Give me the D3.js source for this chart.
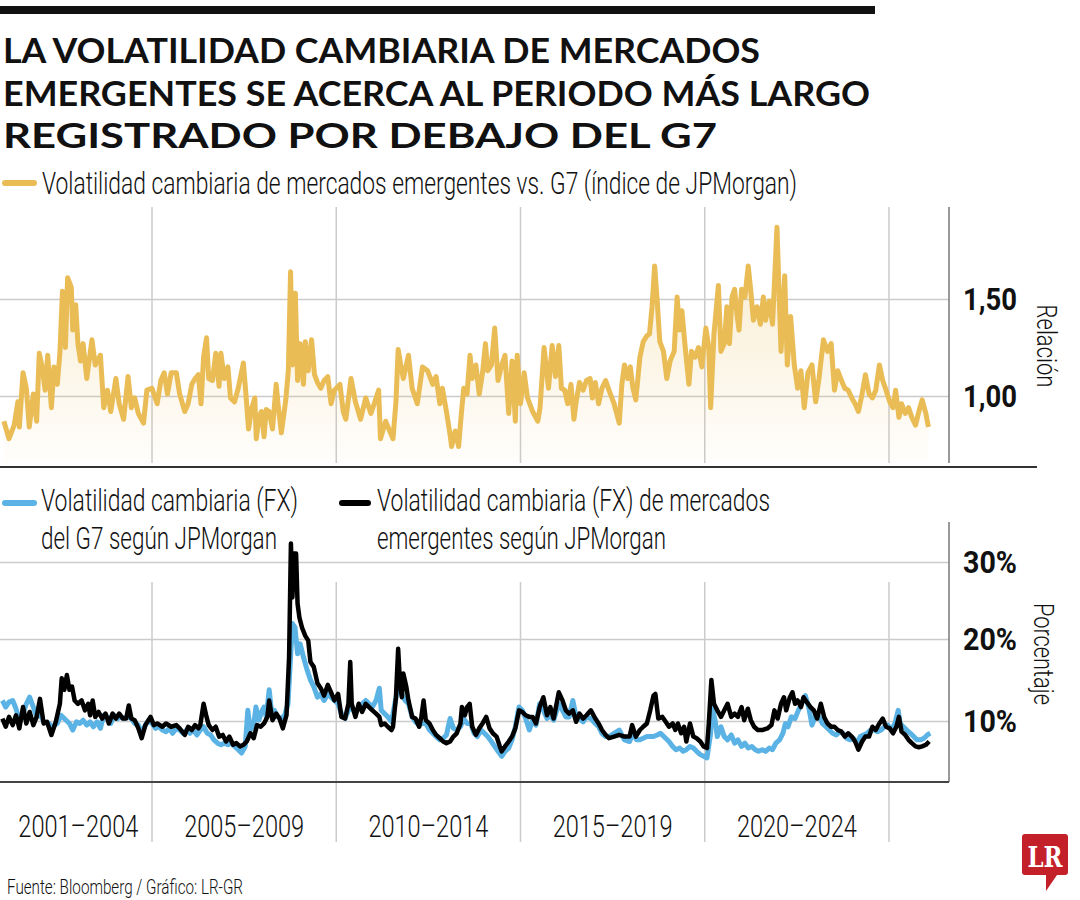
<!DOCTYPE html>
<html>
<head>
<meta charset="utf-8">
<script src="https://cdnjs.cloudflare.com/ajax/libs/d3/7.8.5/d3.min.js"></script>
<style>
  body { margin: 0; background: #fff; }
  svg { display: block; }
</style>
</head>
<body>
<div id="chart"></div>
<script>
// ---- Data ----
var titleLines = ["LA VOLATILIDAD CAMBIARIA DE MERCADOS", "EMERGENTES SE ACERCA AL PERIODO MÁS LARGO", "REGISTRADO POR DEBAJO DEL G7"];
var periodLabels = ["2001–2004", "2005–2009", "2010–2014", "2015–2019", "2020–2024"];
var periodEdges = [2001, 2005, 2010, 2015, 2020, 2025];
var gridYears = [2005, 2010, 2015, 2020, 2025];
var ratioTicks = [1, 1.5];
var pctTicks = [10, 20, 30];

// EM vs G7 FX volatility ratio (JPMorgan index), [year, ratio]
var ratioSeries = [
  [2000.98,0.87],[2001.12,0.78],[2001.26,0.85],[2001.36,0.97],[2001.40,0.84],[2001.50,1.12],[2001.59,1.04],[2001.67,0.84],[2001.78,1.01],[2001.87,0.87],
  [2001.94,1.22],[2002.01,1.16],[2002.10,1.03],[2002.17,1.21],[2002.27,0.94],[2002.34,1.15],[2002.43,1.06],[2002.50,1.22],[2002.57,1.54],[2002.65,1.25],
  [2002.71,1.61],[2002.81,1.56],[2002.85,1.34],[2002.93,1.47],[2002.99,1.27],[2003.06,1.18],[2003.13,1.27],[2003.23,1.09],[2003.37,1.29],[2003.46,1.16],
  [2003.60,1.21],[2003.69,0.94],[2003.79,1.03],[2003.88,0.92],[2004.02,1.09],[2004.11,0.96],[2004.23,0.88],[2004.35,1.10],[2004.44,0.94],[2004.53,0.99],
  [2004.63,0.91],[2004.77,0.86],[2004.86,1.03],[2005.00,1.04],[2005.14,0.96],[2005.24,1.08],[2005.33,1.12],[2005.42,1.01],[2005.52,1.12],[2005.66,1.12],
  [2005.75,1.01],[2005.89,0.92],[2005.98,0.96],[2006.08,1.06],[2006.17,1.09],[2006.26,1.11],[2006.33,0.96],[2006.40,1.20],[2006.48,1.30],[2006.54,1.09],
  [2006.64,1.08],[2006.73,1.22],[2006.82,1.05],[2006.87,1.22],[2006.96,1.09],[2007.06,1.15],[2007.13,0.99],[2007.24,0.97],[2007.34,1.04],[2007.48,1.17],
  [2007.54,1.03],[2007.62,0.83],[2007.71,0.94],[2007.79,0.99],[2007.83,0.78],[2007.90,0.89],[2007.97,0.92],[2008.04,0.79],[2008.10,0.93],[2008.18,0.92],
  [2008.27,0.83],[2008.37,1.06],[2008.42,0.96],[2008.51,0.81],[2008.63,0.98],[2008.70,1.13],[2008.76,1.64],[2008.81,1.16],[2008.89,1.53],[2008.95,1.08],
  [2009.02,1.27],[2009.11,1.06],[2009.16,1.28],[2009.24,1.13],[2009.33,1.29],[2009.41,1.11],[2009.49,1.07],[2009.58,1.04],[2009.67,1.08],[2009.77,1.10],
  [2009.86,0.96],[2009.95,1.03],[2010.10,1.06],[2010.19,0.92],[2010.26,0.88],[2010.40,1.09],[2010.52,0.97],[2010.66,0.88],[2010.80,0.99],[2010.94,0.91],
  [2011.03,0.96],[2011.15,1.03],[2011.20,0.78],[2011.34,0.87],[2011.45,0.82],[2011.54,0.78],[2011.62,0.97],[2011.68,1.24],[2011.75,1.16],[2011.82,1.09],
  [2011.96,1.21],[2012.06,1.04],[2012.20,0.96],[2012.34,1.15],[2012.48,1.13],[2012.62,1.06],[2012.71,1.10],[2012.81,0.96],[2012.88,1.04],[2012.99,0.92],
  [2013.09,0.80],[2013.13,0.74],[2013.23,0.82],[2013.32,0.74],[2013.40,0.92],[2013.46,1.04],[2013.55,1.01],[2013.63,1.21],[2013.69,1.09],[2013.79,1.16],
  [2013.88,1.01],[2013.97,1.12],[2014.05,1.27],[2014.11,1.13],[2014.21,1.16],[2014.30,1.35],[2014.39,1.08],[2014.49,1.16],[2014.58,1.21],[2014.68,0.91],
  [2014.77,1.18],[2014.86,0.87],[2014.91,1.21],[2015.00,0.96],[2015.10,1.12],[2015.19,0.99],[2015.33,0.92],[2015.47,0.87],[2015.53,0.94],[2015.64,1.25],
  [2015.76,1.04],[2015.86,1.26],[2015.95,1.10],[2016.04,1.26],[2016.11,1.04],[2016.20,1.03],[2016.28,0.96],[2016.37,1.06],[2016.45,0.88],[2016.51,0.97],
  [2016.60,1.07],[2016.70,1.03],[2016.79,1.08],[2016.89,1.09],[2016.95,0.99],[2017.03,1.07],[2017.12,0.96],[2017.21,1.04],[2017.31,1.08],[2017.40,1.03],
  [2017.54,0.96],[2017.68,0.86],[2017.75,1.06],[2017.82,1.16],[2017.91,1.09],[2017.98,1.15],[2018.05,1.04],[2018.13,0.98],[2018.24,1.20],[2018.33,1.28],
  [2018.43,1.31],[2018.50,1.32],[2018.57,1.46],[2018.64,1.67],[2018.71,1.49],[2018.78,1.28],[2018.88,1.23],[2018.97,1.09],[2019.06,1.18],[2019.17,1.23],
  [2019.25,1.51],[2019.32,1.34],[2019.38,1.44],[2019.47,1.25],[2019.57,1.06],[2019.64,1.23],[2019.74,1.20],[2019.83,1.25],[2019.92,1.15],[2020.03,1.35],
  [2020.11,1.25],[2020.16,0.94],[2020.25,1.32],[2020.37,1.57],[2020.44,1.23],[2020.53,1.27],[2020.60,1.46],[2020.67,1.27],[2020.74,1.51],[2020.81,1.55],
  [2020.88,1.41],[2020.93,1.34],[2021.00,1.55],[2021.09,1.51],[2021.18,1.67],[2021.25,1.54],[2021.32,1.39],[2021.42,1.46],[2021.51,1.37],[2021.59,1.51],
  [2021.65,1.39],[2021.75,1.49],[2021.84,1.37],[2021.96,1.87],[2022.03,1.46],[2022.07,1.23],[2022.17,1.62],[2022.24,1.16],[2022.33,1.41],[2022.43,1.16],
  [2022.52,1.04],[2022.61,1.13],[2022.70,0.94],[2022.80,1.12],[2022.91,1.16],[2023.01,0.97],[2023.10,1.09],[2023.22,1.29],[2023.33,1.23],[2023.43,1.27],
  [2023.52,1.03],[2023.61,1.13],[2023.71,1.08],[2023.80,1.04],[2023.89,1.03],[2023.99,0.99],[2024.08,0.96],[2024.17,0.92],[2024.27,1.01],[2024.36,1.11],
  [2024.46,1.01],[2024.55,0.99],[2024.64,1.03],[2024.74,1.16],[2024.83,1.08],[2024.92,1.03],[2025.02,0.97],[2025.11,0.94],[2025.18,1.03],[2025.27,0.89],
  [2025.34,0.96],[2025.44,0.91],[2025.53,0.94],[2025.62,0.89],[2025.72,0.85],[2025.81,0.92],[2025.90,0.98],[2026.00,0.91],[2026.07,0.84]
];

// G7 FX volatility (%), [year, value]
var g7Series = [
  [2000.94,12.5],[2001.03,11.7],[2001.12,12.3],[2001.22,12.5],[2001.31,11.5],[2001.40,10.1],[2001.50,10.9],[2001.59,12.1],[2001.68,12.9],[2001.78,11.7],
  [2001.87,10.5],[2001.96,10.9],[2002.06,9.9],[2002.20,9.7],[2002.29,9.3],[2002.43,9.7],[2002.53,10.7],[2002.62,10.3],[2002.76,9.7],[2002.85,8.9],
  [2002.95,9.9],[2003.04,9.7],[2003.13,10.1],[2003.23,9.5],[2003.32,9.9],[2003.41,9.3],[2003.51,9.9],[2003.60,9.1],[2003.69,10.7],[2003.79,10.5],
  [2003.88,9.7],[2003.97,10.7],[2004.07,10.3],[2004.16,10.5],[2004.25,10.3],[2004.35,10.5],[2004.44,10.3],[2004.53,9.7],[2004.63,9.5],[2004.72,8.5],
  [2004.82,9.5],[2004.91,10.1],[2005.00,9.7],[2005.10,9.1],[2005.19,9.3],[2005.28,8.9],[2005.38,8.7],[2005.47,9.1],[2005.56,8.5],[2005.66,9.1],
  [2005.75,8.9],[2005.84,8.5],[2005.94,8.9],[2006.03,8.5],[2006.12,8.9],[2006.22,8.3],[2006.31,8.9],[2006.40,9.3],[2006.50,8.5],[2006.59,8.3],
  [2006.68,7.7],[2006.78,7.3],[2006.87,7.1],[2006.96,7.3],[2007.06,7.1],[2007.15,7.3],[2007.24,6.9],[2007.34,6.5],[2007.43,6.1],[2007.53,6.9],
  [2007.60,11.3],[2007.67,8.9],[2007.76,9.5],[2007.82,11.7],[2007.90,10.1],[2007.97,11.1],[2008.04,11.7],[2008.10,10.5],[2008.18,13.8],[2008.25,10.9],
  [2008.32,11.3],[2008.41,10.5],[2008.51,10.3],[2008.60,10.7],[2008.69,12.1],[2008.76,17.8],[2008.81,22.0],[2008.88,21.5],[2008.95,18.2],[2009.02,19.4],
  [2009.11,17.8],[2009.21,16.2],[2009.30,15.0],[2009.39,14.2],[2009.49,12.9],[2009.58,13.3],[2009.67,12.5],[2009.77,13.3],[2009.86,12.9],[2009.95,12.5],
  [2010.05,12.1],[2010.14,10.9],[2010.24,10.3],[2010.33,11.3],[2010.42,11.7],[2010.52,10.9],[2010.61,11.7],[2010.70,12.1],[2010.80,12.5],[2010.89,12.1],
  [2010.98,11.7],[2011.08,12.5],[2011.17,14.0],[2011.22,11.3],[2011.31,10.9],[2011.40,10.5],[2011.50,9.9],[2011.59,12.1],[2011.68,14.2],[2011.78,13.3],
  [2011.87,12.5],[2011.96,12.1],[2012.06,10.5],[2012.15,9.9],[2012.25,9.5],[2012.34,9.7],[2012.43,9.7],[2012.53,8.9],[2012.62,8.5],[2012.71,8.1],
  [2012.81,7.7],[2012.90,7.9],[2012.99,8.3],[2013.09,10.3],[2013.18,9.1],[2013.27,8.9],[2013.37,9.3],[2013.46,10.3],[2013.55,9.7],[2013.65,9.7],
  [2013.74,8.5],[2013.83,8.1],[2013.93,8.9],[2014.02,8.5],[2014.11,8.1],[2014.21,7.5],[2014.30,6.9],[2014.39,6.3],[2014.49,5.7],[2014.58,6.3],
  [2014.68,6.7],[2014.77,7.7],[2014.86,9.3],[2014.96,11.7],[2015.05,11.3],[2015.14,10.3],[2015.24,8.9],[2015.33,10.1],[2015.42,9.5],[2015.52,12.1],
  [2015.62,11.3],[2015.72,10.3],[2015.81,10.7],[2015.90,10.1],[2016.04,12.1],[2016.14,11.3],[2016.23,10.5],[2016.32,10.5],[2016.42,12.5],[2016.51,10.5],
  [2016.60,10.3],[2016.70,9.9],[2016.79,10.5],[2016.91,10.3],[2017.03,9.7],[2017.12,9.3],[2017.21,8.5],[2017.31,8.1],[2017.40,8.1],[2017.54,8.5],
  [2017.68,8.9],[2017.82,7.7],[2017.96,7.5],[2018.05,8.5],[2018.15,7.7],[2018.24,7.7],[2018.33,7.9],[2018.43,8.1],[2018.52,8.1],[2018.61,8.1],
  [2018.71,8.3],[2018.80,8.5],[2018.89,8.1],[2019.03,7.5],[2019.13,6.9],[2019.22,6.5],[2019.32,6.7],[2019.41,6.3],[2019.50,6.5],[2019.60,6.9],
  [2019.69,6.7],[2019.78,6.3],[2019.88,5.9],[2019.97,5.7],[2020.06,5.5],[2020.16,8.5],[2020.20,11.7],[2020.28,10.1],[2020.34,8.1],[2020.44,9.3],
  [2020.53,8.1],[2020.62,7.7],[2020.72,8.3],[2020.81,7.3],[2020.90,7.7],[2021.00,6.9],[2021.09,7.3],[2021.18,6.7],[2021.28,6.9],[2021.37,6.5],
  [2021.46,6.3],[2021.56,6.5],[2021.65,6.3],[2021.75,6.7],[2021.84,6.5],[2021.93,7.3],[2022.03,7.7],[2022.12,8.5],[2022.19,9.7],[2022.26,9.3],
  [2022.35,10.5],[2022.45,10.3],[2022.54,11.3],[2022.63,12.1],[2022.73,13.1],[2022.82,11.7],[2022.91,9.5],[2023.01,10.7],[2023.10,10.5],[2023.19,9.7],
  [2023.29,9.3],[2023.38,8.9],[2023.47,8.5],[2023.57,8.3],[2023.66,8.7],[2023.75,8.5],[2023.85,7.9],[2023.94,7.7],[2024.03,7.9],[2024.13,7.3],
  [2024.22,8.1],[2024.31,8.3],[2024.41,8.5],[2024.50,8.9],[2024.60,8.9],[2024.69,8.7],[2024.78,8.9],[2024.88,9.3],[2024.97,9.5],[2025.06,8.9],
  [2025.16,9.7],[2025.25,11.3],[2025.30,9.7],[2025.39,9.3],[2025.48,8.9],[2025.58,8.5],[2025.67,8.1],[2025.76,7.7],[2025.86,7.7],[2025.95,7.9],
  [2026.04,8.3],[2026.12,8.5]
];

// Emerging-market FX volatility (%), [year, value]
var emSeries = [
  [2000.94,10.3],[2001.03,9.3],[2001.12,10.5],[2001.22,9.5],[2001.31,10.7],[2001.40,9.1],[2001.50,11.7],[2001.59,9.7],[2001.68,11.1],[2001.78,9.5],
  [2001.87,10.5],[2001.96,12.7],[2002.06,9.7],[2002.15,9.9],[2002.27,8.3],[2002.39,9.9],[2002.50,12.1],[2002.55,15.2],[2002.62,13.8],[2002.69,15.6],
  [2002.76,13.8],[2002.83,14.2],[2002.90,12.5],[2002.99,12.1],[2003.09,12.5],[2003.18,11.3],[2003.27,12.1],[2003.32,10.7],[2003.39,12.5],[2003.46,10.5],
  [2003.55,11.1],[2003.65,10.3],[2003.74,10.9],[2003.83,9.7],[2003.93,10.9],[2004.02,10.3],[2004.11,10.9],[2004.21,10.3],[2004.30,10.3],[2004.37,11.9],
  [2004.44,10.3],[2004.53,10.1],[2004.63,9.1],[2004.72,7.9],[2004.82,9.5],[2004.96,10.5],[2005.05,9.5],[2005.14,9.7],[2005.28,9.3],[2005.38,9.7],
  [2005.52,9.3],[2005.66,9.5],[2005.75,9.1],[2005.89,8.3],[2005.98,9.3],[2006.08,8.9],[2006.17,9.5],[2006.26,9.1],[2006.31,9.5],[2006.40,12.1],
  [2006.48,10.5],[2006.54,9.5],[2006.64,8.9],[2006.73,9.3],[2006.82,8.1],[2006.92,8.3],[2007.01,7.5],[2007.10,8.1],[2007.20,7.1],[2007.29,7.3],
  [2007.39,6.9],[2007.48,7.1],[2007.57,7.5],[2007.67,8.5],[2007.76,7.9],[2007.85,9.5],[2007.95,9.3],[2008.04,9.7],[2008.13,10.5],[2008.18,12.5],
  [2008.27,10.1],[2008.37,10.9],[2008.46,10.3],[2008.55,9.1],[2008.65,10.7],[2008.72,17.8],[2008.77,32.4],[2008.81,25.4],[2008.86,31.1],[2008.91,31.1],
  [2008.95,24.6],[2009.00,22.8],[2009.07,21.5],[2009.16,20.4],[2009.24,19.8],[2009.30,17.2],[2009.39,16.6],[2009.49,14.6],[2009.58,14.0],[2009.67,13.1],
  [2009.77,14.4],[2009.86,13.5],[2009.95,12.5],[2010.05,13.3],[2010.14,10.5],[2010.24,10.3],[2010.33,12.1],[2010.38,17.2],[2010.42,12.1],[2010.52,10.5],
  [2010.61,12.1],[2010.70,11.1],[2010.80,12.1],[2010.89,11.7],[2010.98,11.3],[2011.08,10.9],[2011.17,10.5],[2011.22,9.5],[2011.31,9.7],[2011.40,9.3],
  [2011.50,8.9],[2011.54,9.3],[2011.62,12.9],[2011.68,18.8],[2011.73,14.6],[2011.78,12.9],[2011.82,15.8],[2011.90,14.2],[2011.96,12.5],[2012.06,10.5],
  [2012.15,10.3],[2012.25,9.3],[2012.31,10.5],[2012.37,12.5],[2012.43,10.1],[2012.53,9.7],[2012.62,8.9],[2012.71,8.3],[2012.81,7.9],[2012.90,7.5],
  [2012.99,7.3],[2013.09,7.5],[2013.18,8.1],[2013.27,8.5],[2013.37,9.7],[2013.41,11.7],[2013.49,10.7],[2013.55,11.7],[2013.62,12.1],[2013.69,9.3],
  [2013.79,8.3],[2013.88,9.1],[2013.97,9.7],[2014.07,10.5],[2014.16,9.1],[2014.25,8.5],[2014.35,8.1],[2014.44,6.9],[2014.49,6.3],[2014.58,6.9],
  [2014.68,7.5],[2014.77,8.1],[2014.86,9.1],[2014.96,11.3],[2015.05,11.1],[2015.14,10.7],[2015.24,10.5],[2015.33,10.5],[2015.42,9.7],[2015.52,11.7],
  [2015.62,12.9],[2015.72,10.7],[2015.81,11.7],[2015.90,10.3],[2016.04,13.5],[2016.14,12.5],[2016.23,11.3],[2016.32,10.9],[2016.42,11.3],[2016.51,9.9],
  [2016.60,10.9],[2016.70,10.3],[2016.79,10.7],[2016.91,11.3],[2017.03,10.3],[2017.12,9.7],[2017.21,8.9],[2017.31,8.3],[2017.40,7.9],[2017.54,8.1],
  [2017.68,8.3],[2017.82,8.1],[2017.96,8.1],[2018.03,9.5],[2018.13,8.1],[2018.24,8.9],[2018.33,9.3],[2018.43,9.7],[2018.52,11.3],[2018.61,13.1],
  [2018.66,13.3],[2018.74,10.3],[2018.85,10.5],[2018.94,9.9],[2019.03,9.3],[2019.13,9.7],[2019.20,8.9],[2019.27,9.7],[2019.36,8.5],[2019.44,9.3],
  [2019.50,7.5],[2019.60,9.7],[2019.69,8.1],[2019.78,7.9],[2019.88,7.5],[2019.97,6.9],[2020.06,6.7],[2020.11,9.7],[2020.18,15.0],[2020.25,12.1],
  [2020.34,11.3],[2020.44,10.5],[2020.53,11.3],[2020.62,12.1],[2020.72,10.5],[2020.81,10.9],[2020.90,10.5],[2021.00,11.7],[2021.07,10.1],[2021.17,11.5],
  [2021.25,10.1],[2021.34,9.3],[2021.44,8.9],[2021.56,8.9],[2021.70,9.1],[2021.81,9.5],[2021.89,11.3],[2021.98,10.3],[2022.07,12.1],[2022.15,12.9],
  [2022.21,11.3],[2022.31,12.9],[2022.38,13.5],[2022.45,12.1],[2022.52,12.5],[2022.61,11.7],[2022.68,12.9],[2022.77,12.3],[2022.87,11.7],[2022.96,11.3],
  [2023.05,10.3],[2023.15,12.1],[2023.24,10.5],[2023.33,9.7],[2023.43,9.3],[2023.52,9.3],[2023.61,8.9],[2023.71,8.7],[2023.80,8.1],[2023.89,8.5],
  [2023.99,8.1],[2024.08,7.5],[2024.17,6.5],[2024.27,7.5],[2024.36,8.1],[2024.46,8.1],[2024.55,9.3],[2024.64,8.9],[2024.74,9.7],[2024.83,10.3],
  [2024.92,9.3],[2025.02,9.1],[2025.11,8.5],[2025.20,9.3],[2025.27,10.5],[2025.34,8.7],[2025.44,8.3],[2025.53,7.7],[2025.62,7.3],[2025.72,6.9],
  [2025.81,6.8],[2025.90,6.9],[2026.00,7.1],[2026.09,7.5]
];

// ---- Setup ----
var svgWidth = 1080;
var svgHeight = 900;
var gold = "#e9bc56", blue = "#5ab3e4", grid = "#cbcbcb";
var cond = "Roboto, 'Noto Sans', sans-serif";

var svg = d3.select("#chart")
  .append("svg")
  .attr("width", svgWidth)
  .attr("height", svgHeight)
  .style("background", "#fff");

var axisX = 949;   // right-hand axis line

var xScale = d3.scaleLinear().domain([2005, 2025]).range([152, 889]);
var yTop = d3.scaleLinear().domain([1, 1.5]).range([396, 299]);
var yBottom = d3.scaleLinear().domain([10, 20, 30]).range([721, 639, 562]);

// text helper: fixed width so the condensed look of the original is kept
function label(g, x, y, str, size, width, weight, family) {
  return g.append("text")
    .attr("x", x).attr("y", y)
    .attr("font-family", family || cond)
    .attr("font-size", size)
    .attr("font-weight", weight || 300)
    .attr("fill", "#111")
    .attr("textLength", width)
    .attr("lengthAdjust", "spacingAndGlyphs")
    .text(str);
}

// ---- Header ----
svg.append("rect").attr("x", 0).attr("y", 6).attr("width", 875).attr("height", 8).attr("fill", "#111");

var titleWidths = [757, 867, 714];
titleLines.forEach(function(t, i) {
  label(svg, 3, 63 + i * 42.5, t, 35, titleWidths[i], 700, "Lato, 'Open Sans', sans-serif");
});

// ---- Top chart: ratio ----
svg.append("line").attr("x1", 5).attr("x2", 34).attr("y1", 183).attr("y2", 183)
  .attr("stroke", gold).attr("stroke-width", 6).attr("stroke-linecap", "round");
label(svg, 42, 194, "Volatilidad cambiaria de mercados emergentes vs. G7 (índice de JPMorgan)", 31, 755);

var topGroup = svg.append("g");

topGroup.selectAll(".vgrid")
  .data(gridYears)
  .enter()
  .append("line")
  .attr("x1", d => xScale(d)).attr("x2", d => xScale(d))
  .attr("y1", 207).attr("y2", 463)
  .attr("stroke", grid).attr("stroke-width", 1.5);

var topAxis = d3.axisRight(yTop)
  .tickValues(ratioTicks)
  .tickSize(-axisX)
  .tickPadding(14)
  .tickFormat(d => d.toFixed(2).replace(".", ","));

topGroup.append("g")
  .attr("transform", `translate(${axisX},0)`)
  .call(topAxis)
  .call(g => g.select(".domain").remove())
  .call(g => g.selectAll(".tick line").attr("stroke", grid).attr("stroke-width", 1.5))
  .call(g => g.selectAll(".tick text")
    .attr("font-family", cond).attr("font-weight", 700).attr("font-size", 32).attr("fill", "#111")
    .attr("dy", "0.34em")
    .attr("textLength", 54).attr("lengthAdjust", "spacingAndGlyphs"));

var grad = svg.append("defs").append("linearGradient")
  .attr("id", "goldFade")
  .attr("gradientUnits", "userSpaceOnUse")
  .attr("x1", 0).attr("x2", 0).attr("y1", 230).attr("y2", 463);
grad.append("stop").attr("offset", "0%").attr("stop-color", gold).attr("stop-opacity", 0.3);
grad.append("stop").attr("offset", "100%").attr("stop-color", gold).attr("stop-opacity", 0.02);

topGroup.append("path")
  .datum(ratioSeries)
  .attr("fill", "url(#goldFade)")
  .attr("d", d3.area().x(d => xScale(d[0])).y0(463).y1(d => yTop(d[1])));

topGroup.append("path")
  .datum(ratioSeries)
  .attr("fill", "none")
  .attr("stroke", gold)
  .attr("stroke-width", 5)
  .attr("stroke-linejoin", "round")
  .attr("d", d3.line().x(d => xScale(d[0])).y(d => yTop(d[1])));

topGroup.append("line").attr("x1", axisX).attr("x2", axisX).attr("y1", 207).attr("y2", 463)
  .attr("stroke", "#777").attr("stroke-width", 1.5);

label(svg, 0, 0, "Relación", 28, 83)
  .attr("text-anchor", "middle")
  .attr("transform", "translate(1037,346) rotate(90)");

svg.append("line").attr("x1", 0).attr("x2", 1037).attr("y1", 467).attr("y2", 467)
  .attr("stroke", "#333").attr("stroke-width", 2);

// ---- Bottom chart: volatility ----
svg.append("line").attr("x1", 5).attr("x2", 34).attr("y1", 503).attr("y2", 503)
  .attr("stroke", blue).attr("stroke-width", 6).attr("stroke-linecap", "round");
label(svg, 41, 511, "Volatilidad cambiaria (FX)", 31, 257);
label(svg, 41, 549, "del G7 según JPMorgan", 31, 236);

svg.append("line").attr("x1", 342).attr("x2", 368).attr("y1", 503).attr("y2", 503)
  .attr("stroke", "#000").attr("stroke-width", 6).attr("stroke-linecap", "round");
label(svg, 377, 511, "Volatilidad cambiaria (FX) de mercados", 31, 393);
label(svg, 377, 549, "emergentes según JPMorgan", 31, 289);

var botGroup = svg.append("g");

botGroup.selectAll(".vgrid")
  .data(gridYears)
  .enter()
  .append("line")
  .attr("x1", d => xScale(d)).attr("x2", d => xScale(d))
  .attr("y1", 582).attr("y2", 842)
  .attr("stroke", grid).attr("stroke-width", 1.5);

var botAxis = d3.axisRight(yBottom)
  .tickValues(pctTicks)
  .tickSize(-axisX)
  .tickPadding(14)
  .tickFormat(d => d + "%");

botGroup.append("g")
  .attr("transform", `translate(${axisX},0)`)
  .call(botAxis)
  .call(g => g.select(".domain").remove())
  .call(g => g.selectAll(".tick line").attr("stroke", grid).attr("stroke-width", 1.5))
  .call(g => g.selectAll(".tick text")
    .attr("font-family", cond).attr("font-weight", 700).attr("font-size", 32).attr("fill", "#111")
    .attr("dy", "0.34em")
    .attr("textLength", 54).attr("lengthAdjust", "spacingAndGlyphs"));

var volLine = d3.line().x(d => xScale(d[0])).y(d => yBottom(d[1]));

botGroup.append("path")
  .datum(g7Series)
  .attr("fill", "none")
  .attr("stroke", blue)
  .attr("stroke-width", 5)
  .attr("stroke-linejoin", "round")
  .attr("d", volLine);

botGroup.append("path")
  .datum(emSeries)
  .attr("fill", "none")
  .attr("stroke", "#000")
  .attr("stroke-width", 4.5)
  .attr("stroke-linejoin", "round")
  .attr("d", volLine);

botGroup.append("line").attr("x1", axisX).attr("x2", axisX).attr("y1", 522).attr("y2", 782)
  .attr("stroke", "#777").attr("stroke-width", 1.5);
botGroup.append("line").attr("x1", 0).attr("x2", axisX).attr("y1", 782).attr("y2", 782)
  .attr("stroke", "#444").attr("stroke-width", 2);

label(svg, 0, 0, "Porcentaje", 27, 102)
  .attr("text-anchor", "middle")
  .attr("transform", "translate(1034,654) rotate(90)");

// period labels under the chart
periodLabels.forEach(function(p, i) {
  var cx = (xScale(periodEdges[i]) + xScale(periodEdges[i + 1])) / 2;
  label(svg, cx, 837, p, 31, 120).attr("text-anchor", "middle");
});

// ---- Footer ----
label(svg, 7, 894, "Fuente: Bloomberg / Gráfico: LR-GR", 21, 236);

var logo = svg.append("g");
logo.append("path")
  .attr("d", "M1025,834 H1065 Q1068,834 1068,837 V872 Q1068,875 1065,875 H1057 L1046,891 L1046,875 H1025 Q1022,875 1022,872 V837 Q1022,834 1025,834 Z")
  .attr("fill", "#c4202a");
logo.append("text")
  .attr("x", 1045).attr("y", 867)
  .attr("text-anchor", "middle")
  .attr("font-family", "'DejaVu Serif', 'Liberation Serif', serif")
  .attr("font-weight", 700).attr("font-size", 27)
  .attr("fill", "#fff")
  .attr("textLength", 35).attr("lengthAdjust", "spacingAndGlyphs")
  .text("LR");
</script>
</body>
</html>
